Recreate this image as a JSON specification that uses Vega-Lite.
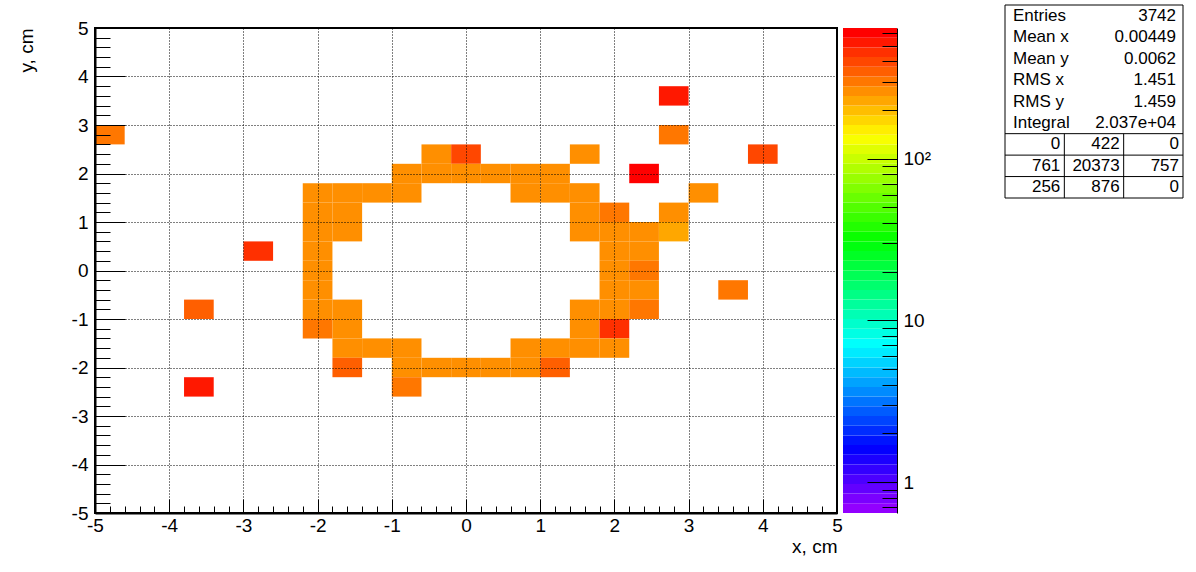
{
  "$schema": "https://vega.github.io/schema/vega-lite/v6.json",
  "width": 742,
  "height": 485,
  "autosize": {"type": "none"},
  "padding": {"left": 95, "top": 28, "right": 359, "bottom": 59},
  "background": "white",
  "config": {
    "view": {"stroke": "black", "strokeWidth": 2},
    "font": "Liberation Sans",
    "axis": {
      "labelFont": "Liberation Sans", "labelFontSize": 19, "labelColor": "black",
      "tickColor": "black", "domainColor": "black", "titleFont": "Liberation Sans",
      "titleFontSize": 19, "titleFontWeight": "normal", "titleColor": "black"
    }
  },
  "datasets": {
    "cells": [
      {"x": 2.6, "xe": 3.0, "y": 3.4, "ye": 3.8, "z": 524},
      {"x": -5, "xe": -4.6, "y": 2.6, "ye": 3.0, "z": 301},
      {"x": 2.6, "xe": 3.0, "y": 2.6, "ye": 3.0, "z": 301},
      {"x": -0.6, "xe": -0.2, "y": 2.2, "ye": 2.6, "z": 262},
      {"x": -0.2, "xe": 0.2, "y": 2.2, "ye": 2.6, "z": 397},
      {"x": 1.4, "xe": 1.8, "y": 2.2, "ye": 2.6, "z": 262},
      {"x": 3.8, "xe": 4.2, "y": 2.2, "ye": 2.6, "z": 397},
      {"x": -1.0, "xe": -0.6, "y": 1.8, "ye": 2.2, "z": 262},
      {"x": -0.6, "xe": -0.2, "y": 1.8, "ye": 2.2, "z": 262},
      {"x": -0.2, "xe": 0.2, "y": 1.8, "ye": 2.2, "z": 262},
      {"x": 0.2, "xe": 0.6, "y": 1.8, "ye": 2.2, "z": 262},
      {"x": 0.6, "xe": 1.0, "y": 1.8, "ye": 2.2, "z": 262},
      {"x": 1.0, "xe": 1.4, "y": 1.8, "ye": 2.2, "z": 262},
      {"x": 2.2, "xe": 2.6, "y": 1.8, "ye": 2.2, "z": 601},
      {"x": -2.2, "xe": -1.8, "y": 1.4, "ye": 1.8, "z": 262},
      {"x": -1.8, "xe": -1.4, "y": 1.4, "ye": 1.8, "z": 262},
      {"x": -1.4, "xe": -1.0, "y": 1.4, "ye": 1.8, "z": 262},
      {"x": -1.0, "xe": -0.6, "y": 1.4, "ye": 1.8, "z": 262},
      {"x": 0.6, "xe": 1.0, "y": 1.4, "ye": 1.8, "z": 262},
      {"x": 1.0, "xe": 1.4, "y": 1.4, "ye": 1.8, "z": 262},
      {"x": 1.4, "xe": 1.8, "y": 1.4, "ye": 1.8, "z": 262},
      {"x": 3.0, "xe": 3.4, "y": 1.4, "ye": 1.8, "z": 262},
      {"x": -2.2, "xe": -1.8, "y": 1.0, "ye": 1.4, "z": 262},
      {"x": -1.8, "xe": -1.4, "y": 1.0, "ye": 1.4, "z": 262},
      {"x": 1.4, "xe": 1.8, "y": 1.0, "ye": 1.4, "z": 262},
      {"x": 1.8, "xe": 2.2, "y": 1.0, "ye": 1.4, "z": 301},
      {"x": 2.6, "xe": 3.0, "y": 1.0, "ye": 1.4, "z": 262},
      {"x": -2.2, "xe": -1.8, "y": 0.6, "ye": 1.0, "z": 262},
      {"x": -1.8, "xe": -1.4, "y": 0.6, "ye": 1.0, "z": 262},
      {"x": 1.4, "xe": 1.8, "y": 0.6, "ye": 1.0, "z": 262},
      {"x": 1.8, "xe": 2.2, "y": 0.6, "ye": 1.0, "z": 262},
      {"x": 2.2, "xe": 2.6, "y": 0.6, "ye": 1.0, "z": 262},
      {"x": 2.6, "xe": 3.0, "y": 0.6, "ye": 1.0, "z": 229},
      {"x": -3.0, "xe": -2.6, "y": 0.2, "ye": 0.6, "z": 456},
      {"x": -2.2, "xe": -1.8, "y": 0.2, "ye": 0.6, "z": 262},
      {"x": 1.8, "xe": 2.2, "y": 0.2, "ye": 0.6, "z": 262},
      {"x": 2.2, "xe": 2.6, "y": 0.2, "ye": 0.6, "z": 262},
      {"x": -2.2, "xe": -1.8, "y": -0.2, "ye": 0.2, "z": 262},
      {"x": 1.8, "xe": 2.2, "y": -0.2, "ye": 0.2, "z": 262},
      {"x": 2.2, "xe": 2.6, "y": -0.2, "ye": 0.2, "z": 301},
      {"x": -2.2, "xe": -1.8, "y": -0.6, "ye": -0.2, "z": 262},
      {"x": 1.8, "xe": 2.2, "y": -0.6, "ye": -0.2, "z": 262},
      {"x": 2.2, "xe": 2.6, "y": -0.6, "ye": -0.2, "z": 262},
      {"x": 3.4, "xe": 3.8, "y": -0.6, "ye": -0.2, "z": 301},
      {"x": -3.8, "xe": -3.4, "y": -1.0, "ye": -0.6, "z": 346},
      {"x": -2.2, "xe": -1.8, "y": -1.0, "ye": -0.6, "z": 262},
      {"x": -1.8, "xe": -1.4, "y": -1.0, "ye": -0.6, "z": 262},
      {"x": 1.4, "xe": 1.8, "y": -1.0, "ye": -0.6, "z": 262},
      {"x": 1.8, "xe": 2.2, "y": -1.0, "ye": -0.6, "z": 262},
      {"x": 2.2, "xe": 2.6, "y": -1.0, "ye": -0.6, "z": 301},
      {"x": -2.2, "xe": -1.8, "y": -1.4, "ye": -1.0, "z": 301},
      {"x": -1.8, "xe": -1.4, "y": -1.4, "ye": -1.0, "z": 262},
      {"x": 1.4, "xe": 1.8, "y": -1.4, "ye": -1.0, "z": 262},
      {"x": 1.8, "xe": 2.2, "y": -1.4, "ye": -1.0, "z": 456},
      {"x": -1.8, "xe": -1.4, "y": -1.8, "ye": -1.4, "z": 262},
      {"x": -1.4, "xe": -1.0, "y": -1.8, "ye": -1.4, "z": 262},
      {"x": -1.0, "xe": -0.6, "y": -1.8, "ye": -1.4, "z": 262},
      {"x": 0.6, "xe": 1.0, "y": -1.8, "ye": -1.4, "z": 262},
      {"x": 1.0, "xe": 1.4, "y": -1.8, "ye": -1.4, "z": 262},
      {"x": 1.4, "xe": 1.8, "y": -1.8, "ye": -1.4, "z": 262},
      {"x": 1.8, "xe": 2.2, "y": -1.8, "ye": -1.4, "z": 262},
      {"x": -1.8, "xe": -1.4, "y": -2.2, "ye": -1.8, "z": 346},
      {"x": -1.0, "xe": -0.6, "y": -2.2, "ye": -1.8, "z": 262},
      {"x": -0.6, "xe": -0.2, "y": -2.2, "ye": -1.8, "z": 262},
      {"x": -0.2, "xe": 0.2, "y": -2.2, "ye": -1.8, "z": 262},
      {"x": 0.2, "xe": 0.6, "y": -2.2, "ye": -1.8, "z": 262},
      {"x": 0.6, "xe": 1.0, "y": -2.2, "ye": -1.8, "z": 262},
      {"x": 1.0, "xe": 1.4, "y": -2.2, "ye": -1.8, "z": 346},
      {"x": -3.8, "xe": -3.4, "y": -2.6, "ye": -2.2, "z": 524},
      {"x": -1.0, "xe": -0.6, "y": -2.6, "ye": -2.2, "z": 301}
    ],
    "bands": [
      {"lo": 0.644, "hi": 0.7395}, {"lo": 0.7395, "hi": 0.849}, {"lo": 0.849, "hi": 0.975},
      {"lo": 0.975, "hi": 1.119}, {"lo": 1.119, "hi": 1.285}, {"lo": 1.285, "hi": 1.475},
      {"lo": 1.475, "hi": 1.694}, {"lo": 1.694, "hi": 1.945}, {"lo": 1.945, "hi": 2.233},
      {"lo": 2.233, "hi": 2.564}, {"lo": 2.564, "hi": 2.944}, {"lo": 2.944, "hi": 3.38},
      {"lo": 3.38, "hi": 3.881}, {"lo": 3.881, "hi": 4.456}, {"lo": 4.456, "hi": 5.116},
      {"lo": 5.116, "hi": 5.874}, {"lo": 5.874, "hi": 6.745}, {"lo": 6.745, "hi": 7.744},
      {"lo": 7.744, "hi": 8.891}, {"lo": 8.891, "hi": 10.21}, {"lo": 10.21, "hi": 11.72},
      {"lo": 11.72, "hi": 13.46}, {"lo": 13.46, "hi": 15.45}, {"lo": 15.45, "hi": 17.74},
      {"lo": 17.74, "hi": 20.37}, {"lo": 20.37, "hi": 23.39}, {"lo": 23.39, "hi": 26.85},
      {"lo": 26.85, "hi": 30.83}, {"lo": 30.83, "hi": 35.4}, {"lo": 35.4, "hi": 40.64},
      {"lo": 40.64, "hi": 46.67}, {"lo": 46.67, "hi": 53.58}, {"lo": 53.58, "hi": 61.52},
      {"lo": 61.52, "hi": 70.63}, {"lo": 70.63, "hi": 81.1}, {"lo": 81.1, "hi": 93.11},
      {"lo": 93.11, "hi": 106.9}, {"lo": 106.9, "hi": 122.7}, {"lo": 122.7, "hi": 140.9},
      {"lo": 140.9, "hi": 161.8}, {"lo": 161.8, "hi": 185.8}, {"lo": 185.8, "hi": 213.3},
      {"lo": 213.3, "hi": 244.9}, {"lo": 244.9, "hi": 281.2}, {"lo": 281.2, "hi": 322.9},
      {"lo": 322.9, "hi": 370.7}, {"lo": 370.7, "hi": 425.6}, {"lo": 425.6, "hi": 488.7},
      {"lo": 488.7, "hi": 561.1}, {"lo": 561.1, "hi": 644.2}
    ],
    "stats": [
      {"k": "Entries", "v": "3742", "r": 0.5},
      {"k": "Mean x", "v": "0.00449", "r": 1.5},
      {"k": "Mean y", "v": "0.0062", "r": 2.5},
      {"k": "RMS x", "v": "1.451", "r": 3.5},
      {"k": "RMS y", "v": "1.459", "r": 4.5},
      {"k": "Integral", "v": "2.037e+04", "r": 5.5}
    ],
    "tbl": [
      {"v": "0", "r": 6.5, "c": 1}, {"v": "422", "r": 6.5, "c": 2}, {"v": "0", "r": 6.5, "c": 3},
      {"v": "761", "r": 7.5, "c": 1}, {"v": "20373", "r": 7.5, "c": 2}, {"v": "757", "r": 7.5, "c": 3},
      {"v": "256", "r": 8.5, "c": 1}, {"v": "876", "r": 8.5, "c": 2}, {"v": "0", "r": 8.5, "c": 3}
    ],
    "hlines": [{"r": 6}, {"r": 7}, {"r": 8}],
    "vlines": [{"c": 1}, {"c": 2}],
    "box": [{"c0": 0, "c1": 3, "r0": 0, "r1": 9}]
  },
  "resolve": {"scale": {"x": "independent", "y": "independent"}},
  "layer": [
    {
      "data": {"name": "cells"},
      "mark": {"type": "rect"},
      "encoding": {
        "x": {"field": "x", "type": "quantitative",
          "scale": {"domain": [-5, 5], "nice": false, "zero": false},
          "axis": {"orient": "bottom", "zindex": 1, "values": [-5, -4, -3, -2, -1, 0, 1, 2, 3, 4, 5],
            "labelExpr": "datum.value + ''", "tickSize": -14, "tickWidth": 1, "domainWidth": 2,
            "grid": true, "gridDash": [1, 2], "gridColor": "black", "gridWidth": 1, "gridOpacity": 1,
            "labelPadding": 17, "labelFlush": false, "title": "x, cm", "titleAnchor": "end", "titlePadding": 2}},
        "x2": {"field": "xe"},
        "y": {"field": "y", "type": "quantitative",
          "scale": {"domain": [-5, 5], "nice": false, "zero": false},
          "axis": {"orient": "left", "zindex": 1, "values": [-5, -4, -3, -2, -1, 0, 1, 2, 3, 4, 5],
            "labelExpr": "datum.value + ''", "tickSize": -30, "tickWidth": 1, "domainWidth": 2,
            "grid": true, "gridDash": [1, 2], "gridColor": "black", "gridWidth": 1, "gridOpacity": 1,
            "labelPadding": 37, "labelFlush": false, "title": "y, cm", "titleAnchor": "end", "titlePadding": 35}},
        "y2": {"field": "ye"},
        "color": {"field": "z", "type": "quantitative",
          "scale": {"type": "threshold",
            "domain": [0.7395, 0.849, 0.975, 1.119, 1.285, 1.475, 1.694, 1.945, 2.233, 2.564, 2.944, 3.38, 3.881, 4.456, 5.116, 5.874, 6.745, 7.744, 8.891, 10.21, 11.72, 13.46, 15.45, 17.74, 20.37, 23.39, 26.85, 30.83, 35.4, 40.64, 46.67, 53.58, 61.52, 70.63, 81.1, 93.11, 106.9, 122.7, 140.9, 161.8, 185.8, 213.3, 244.9, 281.2, 322.9, 370.7, 425.6, 488.7, 561.1],
            "range": ["#9200FF", "#7A00FF", "#6300FF", "#4B00FF", "#3300FF", "#1B00FF", "#0300FF", "#0014FF", "#002CFF", "#0044FF", "#005CFF", "#0074FF", "#008BFF", "#00A3FF", "#00BBFF", "#00D3FF", "#00EBFF", "#00FFFC", "#00FFE4", "#00FFCC", "#00FFB4", "#00FF9C", "#00FF85", "#00FF6D", "#00FF55", "#00FF3D", "#00FF25", "#00FF0E", "#0AFF00", "#22FF00", "#3AFF00", "#52FF00", "#69FF00", "#81FF00", "#99FF00", "#B1FF00", "#C9FF00", "#E0FF00", "#F8FF00", "#FFEE00", "#FFD600", "#FFBE00", "#FFA700", "#FF8F00", "#FF7700", "#FF5F00", "#FF4700", "#FF3000", "#FF1800", "#FF0000"]},
          "legend": null}
      }
    },
    {
      "data": {"name": "cells"},
      "mark": {"type": "point", "opacity": 0},
      "encoding": {
        "x": {"field": "x", "type": "quantitative",
          "scale": {"domain": [-5, 5], "nice": false, "zero": false},
          "axis": {"orient": "bottom", "zindex": 1, "values": [-4.8, -4.6, -4.4, -4.2, -3.8, -3.6, -3.4, -3.2, -2.8, -2.6, -2.4, -2.2, -1.8, -1.6, -1.4, -1.2, -0.8, -0.6, -0.4, -0.2, 0.2, 0.4, 0.6, 0.8, 1.2, 1.4, 1.6, 1.8, 2.2, 2.4, 2.6, 2.8, 3.2, 3.4, 3.6, 3.8, 4.2, 4.4, 4.6, 4.8],
            "labels": false, "domain": false, "grid": false, "tickSize": -7, "tickWidth": 1, "title": null}},
        "y": {"field": "y", "type": "quantitative",
          "scale": {"domain": [-5, 5], "nice": false, "zero": false},
          "axis": {"orient": "left", "zindex": 1, "values": [-4.8, -4.6, -4.4, -4.2, -3.8, -3.6, -3.4, -3.2, -2.8, -2.6, -2.4, -2.2, -1.8, -1.6, -1.4, -1.2, -0.8, -0.6, -0.4, -0.2, 0.2, 0.4, 0.6, 0.8, 1.2, 1.4, 1.6, 1.8, 2.2, 2.4, 2.6, 2.8, 3.2, 3.4, 3.6, 3.8, 4.2, 4.4, 4.6, 4.8],
            "labels": false, "domain": false, "grid": false, "tickSize": -15, "tickWidth": 1, "title": null}}
      }
    },
    {
      "data": {"name": "bands"},
      "mark": {"type": "rect"},
      "encoding": {
        "x": {"datum": 0, "type": "quantitative", "scale": {"domain": [0, 1], "range": [748, 802]}, "axis": null},
        "x2": {"datum": 1},
        "y": {"field": "lo", "type": "quantitative",
          "scale": {"type": "log", "domain": [0.644, 644.2], "nice": false},
          "axis": {"orient": "right", "zindex": 1, "offset": 60, "values": [1, 10, 100],
            "labelExpr": "datum.value == 100 ? '10²' : datum.value + ''",
            "tickSize": -30, "tickWidth": 1, "domain": true, "domainWidth": 1, "grid": false,
            "labelPadding": 36, "labelFlush": false, "title": null}},
        "y2": {"field": "hi"},
        "color": {"field": "lo", "type": "quantitative",
          "scale": {"type": "threshold",
            "domain": [0.7395, 0.849, 0.975, 1.119, 1.285, 1.475, 1.694, 1.945, 2.233, 2.564, 2.944, 3.38, 3.881, 4.456, 5.116, 5.874, 6.745, 7.744, 8.891, 10.21, 11.72, 13.46, 15.45, 17.74, 20.37, 23.39, 26.85, 30.83, 35.4, 40.64, 46.67, 53.58, 61.52, 70.63, 81.1, 93.11, 106.9, 122.7, 140.9, 161.8, 185.8, 213.3, 244.9, 281.2, 322.9, 370.7, 425.6, 488.7, 561.1],
            "range": ["#9200FF", "#7A00FF", "#6300FF", "#4B00FF", "#3300FF", "#1B00FF", "#0300FF", "#0014FF", "#002CFF", "#0044FF", "#005CFF", "#0074FF", "#008BFF", "#00A3FF", "#00BBFF", "#00D3FF", "#00EBFF", "#00FFFC", "#00FFE4", "#00FFCC", "#00FFB4", "#00FF9C", "#00FF85", "#00FF6D", "#00FF55", "#00FF3D", "#00FF25", "#00FF0E", "#0AFF00", "#22FF00", "#3AFF00", "#52FF00", "#69FF00", "#81FF00", "#99FF00", "#B1FF00", "#C9FF00", "#E0FF00", "#F8FF00", "#FFEE00", "#FFD600", "#FFBE00", "#FFA700", "#FF8F00", "#FF7700", "#FF5F00", "#FF4700", "#FF3000", "#FF1800", "#FF0000"]},
          "legend": null}
      }
    },
    {
      "data": {"name": "bands"},
      "mark": {"type": "point", "opacity": 0},
      "encoding": {
        "y": {"field": "lo", "type": "quantitative",
          "scale": {"type": "log", "domain": [0.644, 644.2], "nice": false},
          "axis": {"orient": "right", "zindex": 1, "offset": 60,
            "values": [0.7, 0.8, 0.9, 2, 3, 4, 5, 6, 7, 8, 9, 20, 30, 40, 50, 60, 70, 80, 90, 200, 300, 400, 500, 600],
            "labels": false, "domain": false, "grid": false, "tickSize": -15, "tickWidth": 1, "title": null}}
      }
    },
    {
      "layer": [
        {
          "data": {"name": "box"},
          "mark": {"type": "rect", "fill": "white", "stroke": "black", "strokeWidth": 1},
          "encoding": {
            "x": {"field": "c0", "type": "quantitative", "scale": {"domain": [0, 3], "range": [910, 1088]}, "axis": null},
            "x2": {"field": "c1"},
            "y": {"field": "r0", "type": "quantitative", "scale": {"domain": [0, 9], "range": [-23, 170]}, "axis": null},
            "y2": {"field": "r1"}
          }
        },
        {
          "data": {"name": "hlines"},
          "mark": {"type": "rule", "color": "black", "strokeWidth": 1},
          "encoding": {
            "x": {"datum": 0, "type": "quantitative", "scale": {"domain": [0, 3], "range": [910, 1088]}, "axis": null},
            "x2": {"datum": 3},
            "y": {"field": "r", "type": "quantitative", "scale": {"domain": [0, 9], "range": [-23, 170]}, "axis": null}
          }
        },
        {
          "data": {"name": "vlines"},
          "mark": {"type": "rule", "color": "black", "strokeWidth": 1},
          "encoding": {
            "x": {"field": "c", "type": "quantitative", "scale": {"domain": [0, 3], "range": [910, 1088]}, "axis": null},
            "y": {"datum": 6, "type": "quantitative", "scale": {"domain": [0, 9], "range": [-23, 170]}, "axis": null},
            "y2": {"datum": 9}
          }
        },
        {
          "data": {"name": "stats"},
          "mark": {"type": "text", "align": "left", "baseline": "middle", "dx": 8, "fontSize": 17, "font": "Liberation Sans", "color": "black"},
          "encoding": {
            "x": {"datum": 0, "type": "quantitative", "scale": {"domain": [0, 3], "range": [910, 1088]}, "axis": null},
            "y": {"field": "r", "type": "quantitative", "scale": {"domain": [0, 9], "range": [-23, 170]}, "axis": null},
            "text": {"field": "k"}
          }
        },
        {
          "data": {"name": "stats"},
          "mark": {"type": "text", "align": "right", "baseline": "middle", "dx": -7, "fontSize": 17, "font": "Liberation Sans", "color": "black"},
          "encoding": {
            "x": {"datum": 3, "type": "quantitative", "scale": {"domain": [0, 3], "range": [910, 1088]}, "axis": null},
            "y": {"field": "r", "type": "quantitative", "scale": {"domain": [0, 9], "range": [-23, 170]}, "axis": null},
            "text": {"field": "v"}
          }
        },
        {
          "data": {"name": "tbl"},
          "mark": {"type": "text", "align": "right", "baseline": "middle", "dx": -4, "fontSize": 17, "font": "Liberation Sans", "color": "black"},
          "encoding": {
            "x": {"field": "c", "type": "quantitative", "scale": {"domain": [0, 3], "range": [910, 1088]}, "axis": null},
            "y": {"field": "r", "type": "quantitative", "scale": {"domain": [0, 9], "range": [-23, 170]}, "axis": null},
            "text": {"field": "v"}
          }
        }
      ]
    }
  ]
}
